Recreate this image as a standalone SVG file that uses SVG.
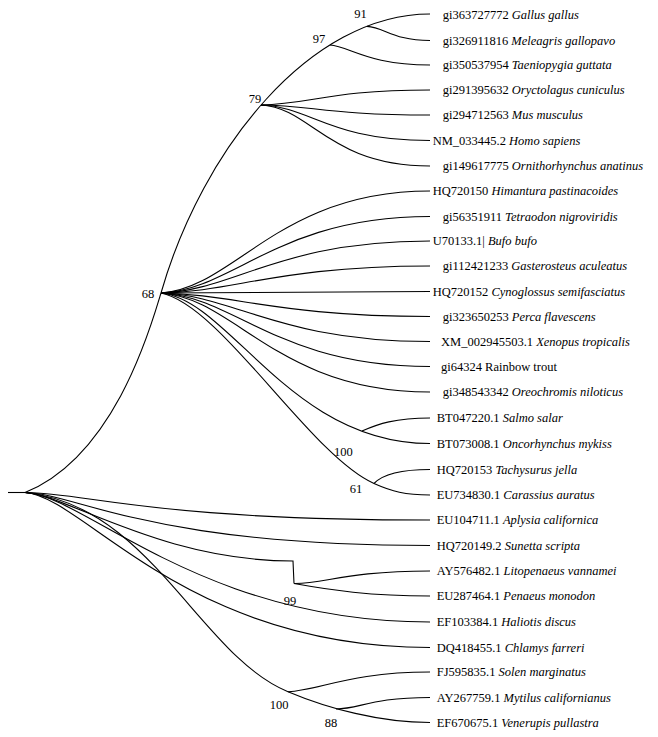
<svg xmlns="http://www.w3.org/2000/svg" width="658" height="737" viewBox="0 0 658 737">
<style>
.e{fill:none;stroke:#000;stroke-width:1.1}
text{font-family:"Liberation Serif","Times New Roman",serif;font-size:12.5px;fill:#000}
.sp{font-style:italic}
.bs{text-anchor:middle}
</style>
<rect width="658" height="737" fill="#fff"/>
<g id="edges" class="e">
<path d="M8 492.5H25"/>
<path d="M25 492.5C115 456 151 326 161 293C202.3 149 310 14 430 14"/>
<path d="M367 26.4C385 27.5 393 40.5 430 40.5"/>
<path d="M330 45C350 46.5 368 65 430 65"/>
<path d="M261 105C311.7 104.2 328.6 90 430 90"/>
<path d="M261 105C311.7 105.5 328.6 115 430 115"/>
<path d="M261 105C311.7 106.8 328.6 140.5 430 140.5"/>
<path d="M261 105C311.7 108 328.6 166 430 166"/>
<path d="M161 293C235 287.9 278 191 430 191"/>
<path d="M161 293C235 289.2 278 216.5 430 216.5"/>
<path d="M161 293C235 290.4 278 241 430 241"/>
<path d="M161 293C235 291.6 278 266 430 266"/>
<path d="M161 293C235 292.9 278 291.5 430 291.5"/>
<path d="M161 293C235 294.2 278 316.5 430 316.5"/>
<path d="M161 293C235 295.4 278 341.5 430 341.5"/>
<path d="M161 293C235 296.7 278 366.5 430 366.5"/>
<path d="M161 293C235 298 278 392 430 392"/>
<path d="M161 293C230 300 290 443.5 430 443.5"/>
<path d="M362 431C378 424 395 418 430 418"/>
<path d="M161 293C221 305 310 455 374 483.5C392 491.5 405 495 430 495"/>
<path d="M374 483.5C382 475 398 469.5 430 469.5"/>
<path d="M25 492.5C88 493 150 520 430 520"/>
<path d="M25 492.5C78 494 148 545.5 430 545.5"/>
<path d="M25 492.5C65 494 160 561 293 561L294 583.5"/>
<path d="M294 583.5C325 584 345 571 430 571"/>
<path d="M294 583.5C330 590 370 596 430 596"/>
<path d="M25 492.5C85 495 200 622 430 622"/>
<path d="M25 492.5C85 497 185 647.5 430 647.5"/>
<path d="M25 492.5C150 505 200 656 288 691.7C328 708.5 380 722.5 430 722.5"/>
<path d="M288 691.7C320 690 350 672 430 672"/>
<path d="M336 709C360 709 370 697.5 430 697.5"/>
</g>
<g id="n91"><text class="bs" x="360.5" y="18">91</text></g>
<g id="n97"><text class="bs" x="319" y="42.5">97</text></g>
<g id="n79"><text class="bs" x="255" y="102.5">79</text></g>
<g id="n68"><text class="bs" x="148" y="297.5">68</text></g>
<g id="n100a"><text class="bs" x="343.3" y="456">100</text></g>
<g id="n61"><text class="bs" x="356" y="492.5">61</text></g>
<g id="n99"><text class="bs" x="290" y="605">99</text></g>
<g id="n100b"><text class="bs" x="279" y="708.5">100</text></g>
<g id="n88"><text class="bs" x="331" y="727">88</text></g>
<g id="leaf01"><text x="442.7" y="18.8">gi363727772 <tspan class="sp">Gallus gallus</tspan></text></g>
<g id="leaf02"><text x="442.7" y="44.8">gi326911816 <tspan class="sp">Meleagris gallopavo</tspan></text></g>
<g id="leaf03"><text x="442.7" y="69.3">gi350537954 <tspan class="sp">Taeniopygia guttata</tspan></text></g>
<g id="leaf04"><text x="442.7" y="94.3">gi291395632 <tspan class="sp">Oryctolagus cuniculus</tspan></text></g>
<g id="leaf05"><text x="442.7" y="119.3">gi294712563 <tspan class="sp">Mus musculus</tspan></text></g>
<g id="leaf06"><text x="432.7" y="144.8">NM_033445.2 <tspan class="sp">Homo sapiens</tspan></text></g>
<g id="leaf07"><text x="442.7" y="170.3">gi149617775 <tspan class="sp">Ornithorhynchus anatinus</tspan></text></g>
<g id="leaf08"><text x="432.7" y="195.3">HQ720150 <tspan class="sp">Himantura pastinacoides</tspan></text></g>
<g id="leaf09"><text x="442.7" y="220.8">gi56351911 <tspan class="sp">Tetraodon nigroviridis</tspan></text></g>
<g id="leaf10"><text x="432.7" y="245.3">U70133.1| <tspan class="sp">Bufo bufo</tspan></text></g>
<g id="leaf11"><text x="442.7" y="270.3">gi112421233 <tspan class="sp">Gasterosteus aculeatus</tspan></text></g>
<g id="leaf12"><text x="432.7" y="295.8">HQ720152 <tspan class="sp">Cynoglossus semifasciatus</tspan></text></g>
<g id="leaf13"><text x="442.7" y="320.8">gi323650253 <tspan class="sp">Perca flavescens</tspan></text></g>
<g id="leaf14"><text x="441" y="345.8">XM_002945503.1 <tspan class="sp">Xenopus tropicalis</tspan></text></g>
<g id="leaf15"><text x="441" y="370.8">gi64324 Rainbow trout</text></g>
<g id="leaf16"><text x="442.7" y="396.3">gi348543342 <tspan class="sp">Oreochromis niloticus</tspan></text></g>
<g id="leaf17"><text x="436.7" y="422.3">BT047220.1 <tspan class="sp">Salmo salar</tspan></text></g>
<g id="leaf18"><text x="436.7" y="447.8">BT073008.1 <tspan class="sp">Oncorhynchus mykiss</tspan></text></g>
<g id="leaf19"><text x="436.7" y="473.8">HQ720153 <tspan class="sp">Tachysurus jella</tspan></text></g>
<g id="leaf20"><text x="436.7" y="499.3">EU734830.1 <tspan class="sp">Carassius auratus</tspan></text></g>
<g id="leaf21"><text x="436.7" y="524.3">EU104711.1 <tspan class="sp">Aplysia californica</tspan></text></g>
<g id="leaf22"><text x="436.7" y="549.8">HQ720149.2 <tspan class="sp">Sunetta scripta</tspan></text></g>
<g id="leaf23"><text x="436.7" y="575.3">AY576482.1 <tspan class="sp">Litopenaeus vannamei</tspan></text></g>
<g id="leaf24"><text x="436.7" y="600.3">EU287464.1 <tspan class="sp">Penaeus monodon</tspan></text></g>
<g id="leaf25"><text x="436.7" y="626.3">EF103384.1 <tspan class="sp">Haliotis discus</tspan></text></g>
<g id="leaf26"><text x="436.7" y="651.8">DQ418455.1 <tspan class="sp">Chlamys farreri</tspan></text></g>
<g id="leaf27"><text x="436.7" y="676.3">FJ595835.1 <tspan class="sp">Solen marginatus</tspan></text></g>
<g id="leaf28"><text x="436.7" y="701.8">AY267759.1 <tspan class="sp">Mytilus californianus</tspan></text></g>
<g id="leaf29"><text x="436.7" y="726.8">EF670675.1 <tspan class="sp">Venerupis pullastra</tspan></text></g>
</svg>
